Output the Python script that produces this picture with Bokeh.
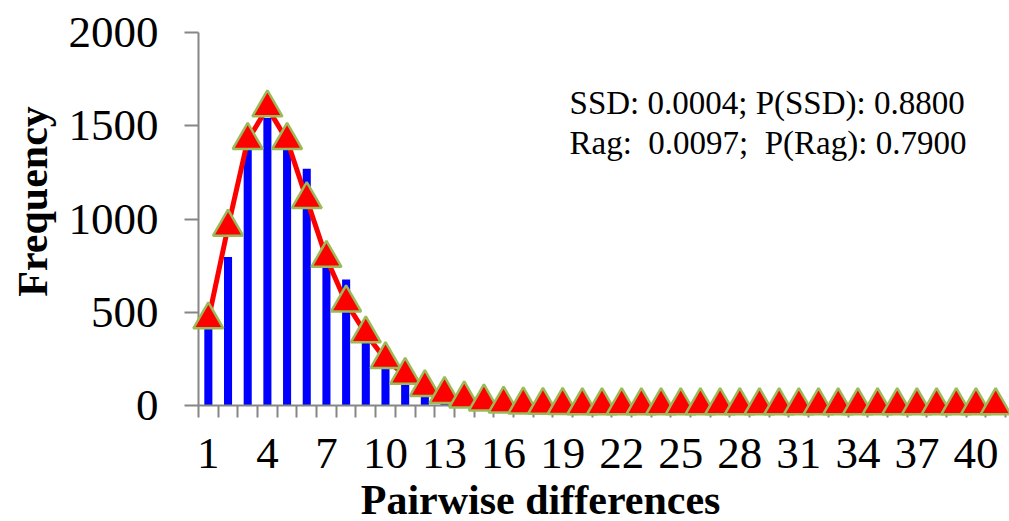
import math
from bokeh.plotting import figure
from bokeh.models import Range1d, FixedTicker, Label
from bokeh.core.properties import value
from bokeh.embed import file_html
from bokeh.resources import INLINE

# ---- data ----
pairwise = [1, 2, 3, 4, 5, 6, 7, 8, 9, 10, 11, 12, 13, 14, 15, 16, 17, 18, 19, 20,
            21, 22, 23, 24, 25, 26, 27, 28, 29, 30, 31, 32, 33, 34, 35, 36, 37, 38, 39, 40, 41]
observed = [411, 796, 1420, 1541, 1400, 1270, 820, 676, 380, 230, 140, 60, 20, 8, 3,
            0, 0, 0, 0, 0, 0, 0, 0, 0, 0, 0, 0, 0, 0, 0, 0, 0, 0, 0, 0, 0, 0, 0, 0, 0, 0]
expected = [460, 957, 1422, 1597, 1422, 1105, 790, 551, 385, 247, 163, 97, 60, 36, 20,
            9, 4, 2, 1, 0, 0, 0, 0, 0, 0, 0, 0, 0, 0, 0, 0, 0, 0, 0, 0, 0, 0, 0, 0, 0, 0]
x_tick_values = [1, 4, 7, 10, 13, 16, 19, 22, 25, 28, 31, 34, 37, 40]
y_tick_values = [0, 500, 1000, 1500, 2000]
x_title = "Pairwise differences"
y_title = "Frequency"
stats_line1 = "SSD: 0.0004; P(SSD): 0.8800"
stats_line2 = "Rag:\u00a0 0.0097;\u00a0 P(Rag): 0.7900"

FONT = "Liberation Serif"
AXIS = "#868686"

p = figure(width=1009, height=521, output_backend="svg", toolbar_location=None,
           x_range=Range1d(0.5, 41.5), y_range=Range1d(0, 2000),
           min_border_left=198, min_border_right=4, min_border_top=32,
           min_border_bottom=116)
p.outline_line_color = None
p.xgrid.visible = False
p.ygrid.visible = False
p.background_fill_color = "white"
p.border_fill_color = "white"

p.vbar(x=pairwise, top=observed, width=0.41, fill_color="#0000FF", line_color=None)
p.line(pairwise, expected, line_color="#FF0000", line_width=5, level="overlay")
p.scatter(pairwise, expected, marker="triangle", size=30, fill_color="#FF0000",
          line_color="#9BBB59", line_width=2.5, level="overlay")

# x axis
xa = p.xaxis[0]
xa.ticker = FixedTicker(ticks=x_tick_values,
                        minor_ticks=[k - 0.5 for k in pairwise] + [pairwise[-1] + 0.5])
xa.axis_line_color = AXIS
xa.axis_line_width = 2
xa.major_tick_line_color = None
xa.major_tick_out = 12
xa.major_tick_in = 0
xa.minor_tick_line_color = AXIS
xa.minor_tick_line_width = 2
xa.minor_tick_out = 12
xa.minor_tick_in = 0
xa.major_label_text_font = FONT
xa.major_label_text_font_size = "45px"
xa.major_label_text_color = "black"
xa.major_label_standoff = 21

# y axis
ya = p.yaxis[0]
ya.ticker = FixedTicker(ticks=y_tick_values)
ya.axis_line_color = AXIS
ya.axis_line_width = 2
ya.major_tick_line_color = AXIS
ya.major_tick_line_width = 2
ya.major_tick_out = 14
ya.major_tick_in = 0
ya.minor_tick_line_color = None
ya.major_label_text_font = FONT
ya.major_label_text_font_size = "45px"
ya.major_label_text_color = "black"
ya.major_label_standoff = 26

# axis titles (unclipped text glyphs outside the frame)
p.text(x=[17.88], y=[-505], text=[x_title], text_font=value(FONT),
       text_font_style="bold", text_font_size=value("42px"), text_align="center",
       text_baseline="alphabetic", text_color="black", level="overlay")
p.text(x=[-7.9], y=[1094], text=[y_title], text_font=value(FONT),
       text_font_style="bold", text_font_size=value("42px"), text_align="center",
       text_baseline="middle", angle=math.pi / 2, text_color="black", level="overlay")

# statistics text
p.add_layout(Label(x=19.35, y=1621, text=stats_line1, text_font=FONT,
                   text_font_size="33px", text_align="left", text_baseline="alphabetic",
                   text_color="black"))
p.add_layout(Label(x=19.35, y=1410, text=stats_line2, text_font=FONT,
                   text_font_size="33px", text_align="left", text_baseline="alphabetic",
                   text_color="black"))

open("out.html", "w").write(file_html(p, INLINE, "Mismatch distribution"))
